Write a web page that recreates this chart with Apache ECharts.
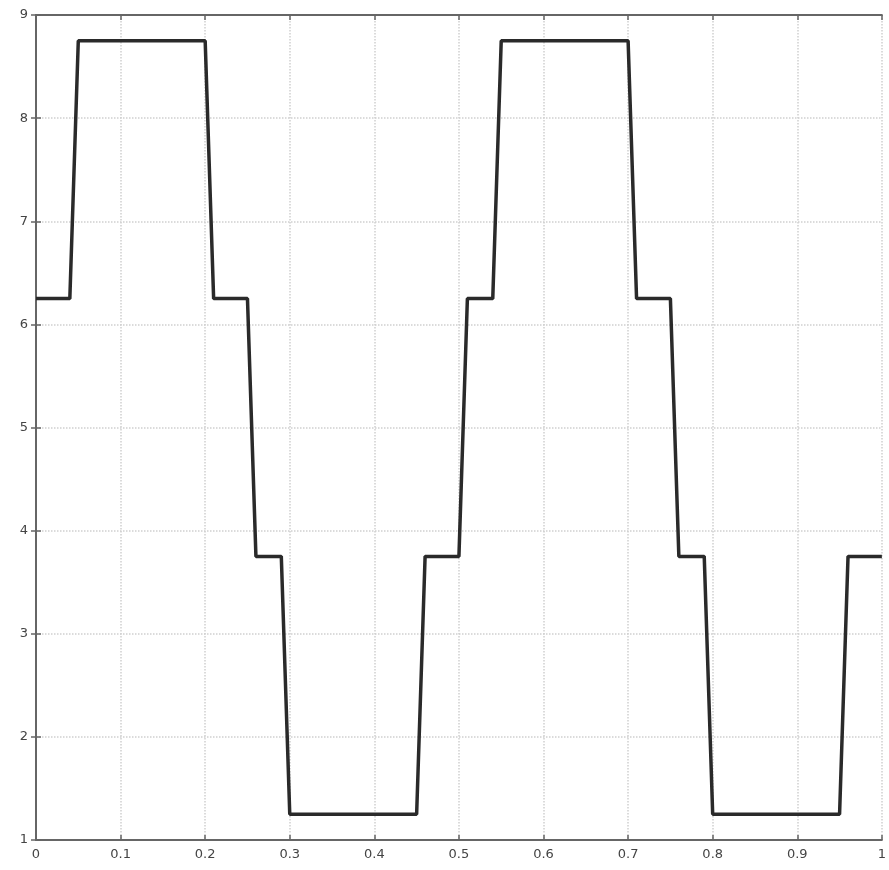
<!DOCTYPE html>
<html>
<head>
<meta charset="utf-8">
<script src="https://cdn.jsdelivr.net/npm/echarts@6/dist/echarts.min.js"></script>
<style>html,body{margin:0;padding:0;background:#fff;}#c{width:889px;height:870px;}</style>
</head>
<body>
<div id="c"></div>
<script>
var xValues = [0, 0.04, 0.05, 0.2, 0.21, 0.25, 0.26, 0.29, 0.3, 0.45, 0.46, 0.5, 0.51, 0.54, 0.55, 0.7, 0.71, 0.75, 0.76, 0.79, 0.8, 0.95, 0.96, 1];
var yValues = [6.25, 6.25, 8.75, 8.75, 6.25, 6.25, 3.75, 3.75, 1.25, 1.25, 3.75, 3.75, 6.25, 6.25, 8.75, 8.75, 6.25, 6.25, 3.75, 3.75, 1.25, 1.25, 3.75, 3.75];
var xTicks = [0, 0.1, 0.2, 0.3, 0.4, 0.5, 0.6, 0.7, 0.8, 0.9, 1];
var yTicks = [1, 2, 3, 4, 5, 6, 7, 8, 9];

var data = xValues.map(function (x, i) { return [x, yValues[i]]; });
var chart = echarts.init(document.getElementById('c'));
var axisLine = { show: true, lineStyle: { color: '#666', width: 2 } };
var tick = { show: true, inside: true, length: 5, lineStyle: { color: '#666', width: 1.5 } };
var label = { color: '#444', fontSize: 13, fontFamily: 'DejaVu Sans' };
chart.setOption({
  animation: false,
  grid: { left: 36, right: 4, top: 15, bottom: 30, containLabel: false },
  xAxis: [{
    type: 'value', min: xTicks[0], max: xTicks[xTicks.length - 1], interval: 0.1,
    axisLine: axisLine, axisTick: tick,
    axisLabel: Object.assign({ margin: 8, showMaxLabel: true, showMinLabel: true }, label),
    splitLine: { show: true, lineStyle: { color: '#cfcfcf', type: 'dotted', width: 1.5 } }
  }, {
    type: 'value', position: 'top', min: xTicks[0], max: xTicks[xTicks.length - 1], interval: 0.1,
    axisLine: axisLine, axisTick: tick, axisLabel: { show: false }, splitLine: { show: false }
  }],
  yAxis: [{
    type: 'value', min: yTicks[0], max: yTicks[yTicks.length - 1], interval: 1,
    axisLine: axisLine, axisTick: tick,
    axisLabel: Object.assign({ margin: 8 }, label),
    splitLine: { show: true, lineStyle: { color: '#cfcfcf', type: 'dotted', width: 1.5 } }
  }, {
    type: 'value', position: 'right', min: yTicks[0], max: yTicks[yTicks.length - 1], interval: 1,
    axisLine: axisLine, axisTick: tick, axisLabel: { show: false }, splitLine: { show: false }
  }],
  series: [{
    type: 'line', data: data, showSymbol: false, symbol: 'none',
    lineStyle: { color: '#2a2a2a', width: 3.5 }
  }]
});
</script>
</body>
</html>
